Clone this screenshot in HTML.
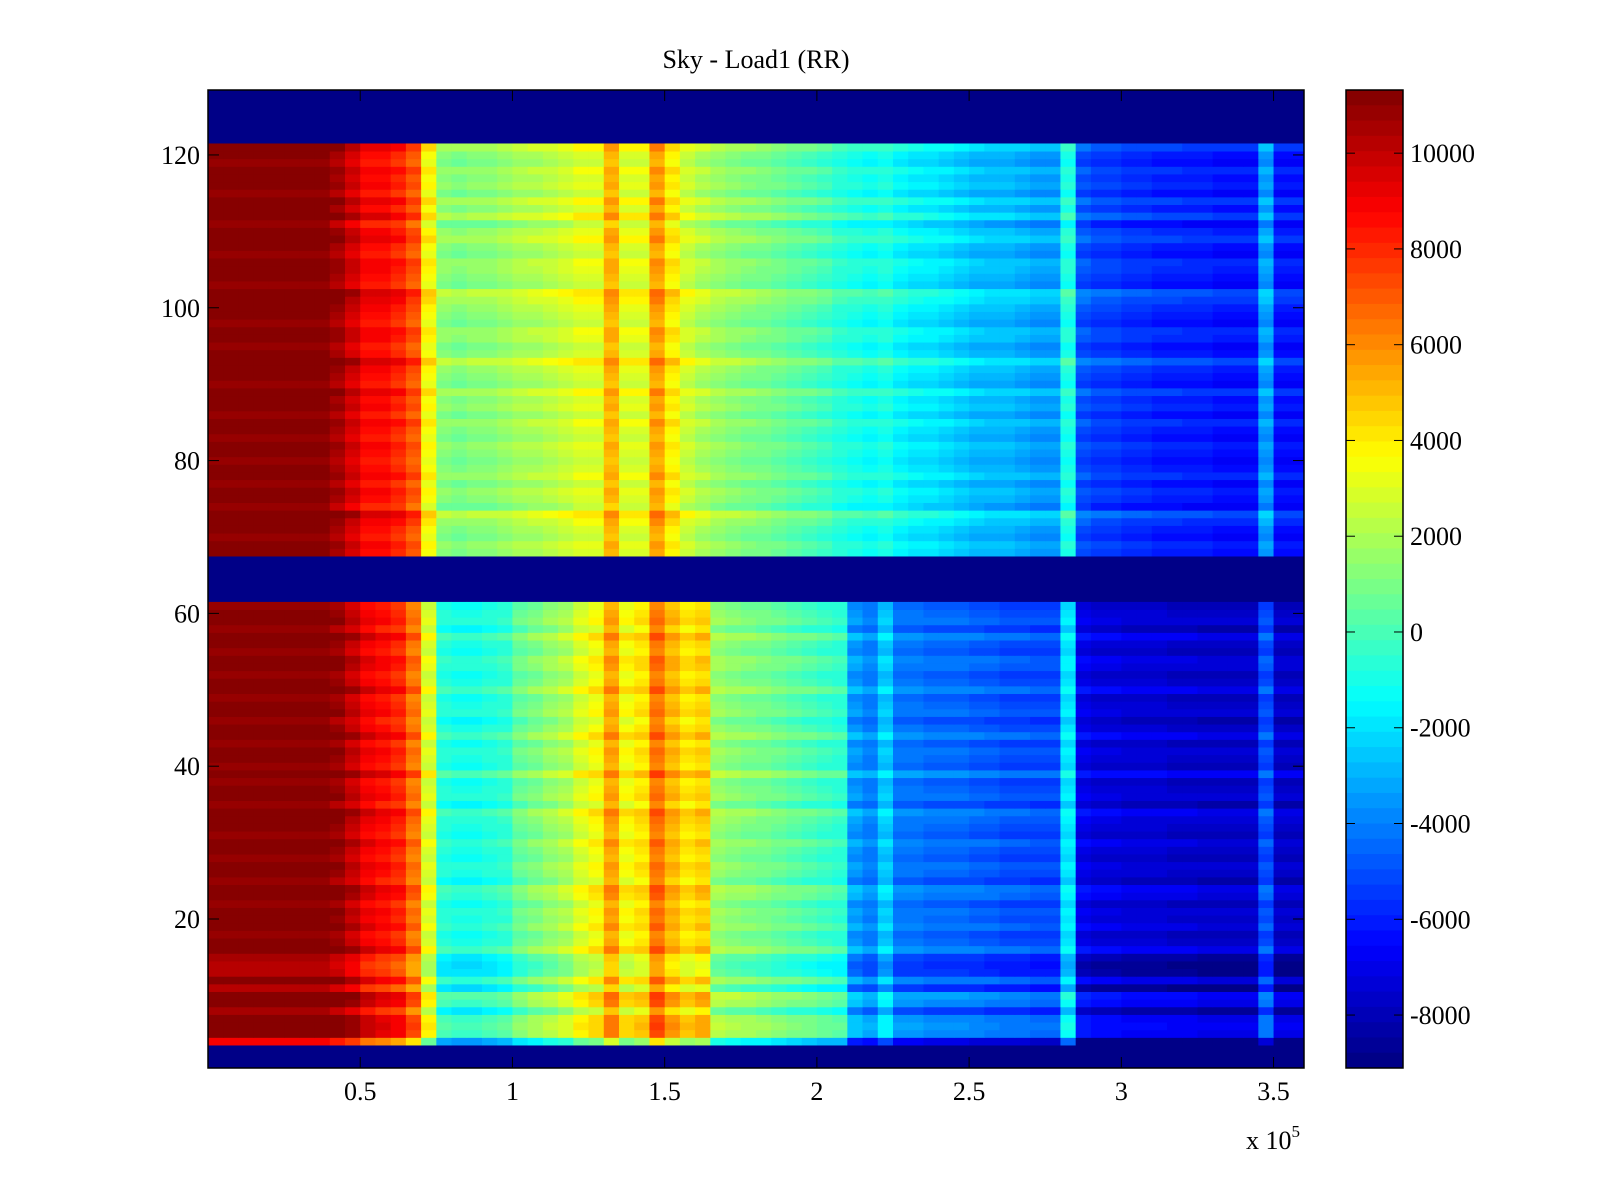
<!DOCTYPE html>
<html>
<head>
<meta charset="utf-8">
<style>
html,body{margin:0;padding:0;background:#fff;}
svg{display:block;font-family:"Liberation Serif",serif;}
</style>
</head>
<body>
<svg id="chart" width="1600" height="1200" viewBox="0 0 1600 1200">
  <rect width="1600" height="1200" fill="#fff"/>
  <text x="756" y="68" font-size="26" text-anchor="middle">Sky - Load1 (RR)</text>
  <g id="cells"></g>
  <rect x="208" y="90" width="1096" height="978" fill="none" stroke="#000" stroke-width="1.5"/>
  <g id="xticks"></g>
  <g id="yticks"></g>
  <text x="1246" y="1149" font-size="26">x 10<tspan dy="-12" font-size="17">5</tspan></text>
  <g id="cbar"></g>
</svg>
<script>
// ---- data ----
const xTicks = [0.5, 1, 1.5, 2, 2.5, 3, 3.5];           // x 1e5
const yTicks = [20, 40, 60, 80, 100, 120];
const cbarTicks = [10000, 8000, 6000, 4000, 2000, 0, -2000, -4000, -6000, -8000];
const colWidth = 5000;                                   // sample bin width
const upperProfile = [11300,11300,11300,11300,11300,11300,11300,11300,10500,9500,8500,8500,8000,7000,3500,1200,1000,1200,1200,1500,1800,2000,2200,2500,3000,3000,5000,3000,3000,5500,3800,2500,2000,1500,1200,1000,800,500,200,0,-300,-800,-1000,-1200,-1000,-1500,-1800,-2000,-2200,-2500,-2800,-3000,-3000,-3200,-3500,-3500,-1000,-5000,-5500,-5500,-5800,-5800,-6000,-6000,-6100,-6100,-6300,-6300,-6300,-3500,-6300,-6300];
const lowerProfile = [11300,11300,11300,11300,11300,11300,11300,11300,10800,10000,9000,8500,8000,6500,3000,-800,-1000,-1000,-800,-500,500,1000,1500,2000,3000,3500,5500,3500,4000,6500,5000,4000,4500,1500,1200,1000,800,500,300,0,-300,-500,-3500,-4000,-2500,-4300,-4300,-4500,-4500,-4500,-4700,-4800,-5000,-5000,-5200,-5200,-2000,-7000,-7300,-7300,-7500,-7500,-7500,-7600,-7600,-7800,-7800,-7800,-7800,-5000,-7800,-7800];
// per-row offsets, rows 1..128 (null = empty row at colour minimum)
const rowOffset = [null,null,null,-2500,800,1000,800,-800,800,1200,-1200,500,-1000,-1200,-800,800,0,-300,500,0,
  300,-300,500,800,-500,0,300,-300,0,500,-300,0,300,800,-500,300,0,-300,1000,-300,
  0,300,-300,800,0,-500,300,0,-300,800,0,-300,300,500,-300,0,800,-500,300,0,
  -300,null,null,null,null,null,null,0,300,-300,0,500,1200,-500,0,300,-300,500,0,-300,
  0,300,-300,0,500,-300,300,0,800,-300,0,300,1200,0,-300,300,500,-300,0,300,
  800,1200,-300,0,300,500,-300,0,800,300,-500,1000,0,800,-300,300,0,500,-300,0,
  800,null,null,null,null,null,null,null];
const cmin = -9106, cmax = 11319;

// ---- axes ----
const px0 = 208, px1 = 1304, py0 = 90, py1 = 1068;
const xScale = v => px0 + v * (px1 - px0) / 3.6e5;
const rowH = (py1 - py0) / 128;
const yScale = r => py1 - (r - 0.5) * rowH;
const cScale = v => py0 + (cmax - v) / (cmax - cmin) * (py1 - py0);

function jet(t){
  t = Math.max(0, Math.min(1, t));
  t = (Math.floor(t * 63.999) + 0.5) / 64;
  const f = x => Math.max(0, Math.min(1, x));
  const r = f(1.5 - Math.abs(4*t - 3)), g = f(1.5 - Math.abs(4*t - 2)), b = f(1.5 - Math.abs(4*t - 1));
  return `rgb(${Math.round(r*255)},${Math.round(g*255)},${Math.round(b*255)})`;
}
const colorOf = v => jet((v - cmin) / (cmax - cmin));
const NS = "http://www.w3.org/2000/svg";
const cells = document.getElementById('cells');

const bg = document.createElementNS(NS, 'rect');
bg.setAttribute('x', px0); bg.setAttribute('y', py0);
bg.setAttribute('width', px1 - px0); bg.setAttribute('height', py1 - py0);
bg.setAttribute('fill', colorOf(cmin));


cells.appendChild(bg);

for (let r = 1; r <= 128; r++) {
  const off = rowOffset[r - 1];
  if (off === null) continue;
  const prof = r >= 64 ? upperProfile : lowerProfile;
  const yTop = yScale(r + 0.5), yBot = yScale(r - 0.5);
  for (let c = 0; c < prof.length; c++) {
    const x0 = Math.max(px0, xScale(c * colWidth)), x1 = Math.min(px1, xScale((c + 1) * colWidth));
    if (x1 <= x0) continue;
    const el = document.createElementNS(NS, 'rect');
    el.setAttribute('x', x0.toFixed(2)); el.setAttribute('y', yTop.toFixed(2));
    el.setAttribute('width', (x1 - x0 + 0.4).toFixed(2)); el.setAttribute('height', (yBot - yTop + 0.4).toFixed(2));
    el.setAttribute('fill', colorOf(prof[c] + off));
    
    
    cells.appendChild(el);
  }
}

const xg = document.getElementById('xticks');
xTicks.forEach(t => {
  const x = xScale(t * 1e5);
  const l1 = document.createElementNS(NS, 'line');
  l1.setAttribute('x1', x); l1.setAttribute('x2', x); l1.setAttribute('y1', py1); l1.setAttribute('y2', py1 - 11);
  l1.setAttribute('stroke', '#000');
  
  
  xg.appendChild(l1);
  const l2 = document.createElementNS(NS, 'line');
  l2.setAttribute('x1', x); l2.setAttribute('x2', x); l2.setAttribute('y1', py0); l2.setAttribute('y2', py0 + 11);
  l2.setAttribute('stroke', '#000');
  
  
  xg.appendChild(l2);
  const tx = document.createElementNS(NS, 'text');
  tx.setAttribute('x', x); tx.setAttribute('y', 1100); tx.setAttribute('font-size', '26'); tx.setAttribute('text-anchor', 'middle');
  tx.textContent = String(t);
  
  
  xg.appendChild(tx);
});
const yg = document.getElementById('yticks');
yTicks.forEach(t => {
  const y = yScale(t);
  const l1 = document.createElementNS(NS, 'line');
  l1.setAttribute('x1', px0); l1.setAttribute('x2', px0 + 11); l1.setAttribute('y1', y); l1.setAttribute('y2', y);
  l1.setAttribute('stroke', '#000');
  
  
  yg.appendChild(l1);
  const l2 = document.createElementNS(NS, 'line');
  l2.setAttribute('x1', px1); l2.setAttribute('x2', px1 - 11); l2.setAttribute('y1', y); l2.setAttribute('y2', y);
  l2.setAttribute('stroke', '#000');
  
  
  yg.appendChild(l2);
  const tx = document.createElementNS(NS, 'text');
  tx.setAttribute('x', 200); tx.setAttribute('y', y + 9); tx.setAttribute('font-size', '26'); tx.setAttribute('text-anchor', 'end');
  tx.textContent = String(t);
  
  
  yg.appendChild(tx);
});

const cb = document.getElementById('cbar');
const cbx = 1346, cbw = 57;
for (let i = 0; i < 64; i++) {
  const vTop = cmax - i * (cmax - cmin) / 64, vBot = cmax - (i + 1) * (cmax - cmin) / 64;
  const yT = cScale(vTop), yB = cScale(vBot);
  const el = document.createElementNS(NS, 'rect');
  el.setAttribute('x', cbx); el.setAttribute('y', yT.toFixed(2));
  el.setAttribute('width', cbw); el.setAttribute('height', (yB - yT + 0.5).toFixed(2));
  el.setAttribute('fill', jet(1 - (i + 0.5) / 64));
  
  
  cb.appendChild(el);
}
const fr = document.createElementNS(NS, 'rect');
fr.setAttribute('x', cbx); fr.setAttribute('y', py0); fr.setAttribute('width', cbw); fr.setAttribute('height', py1 - py0);
fr.setAttribute('fill', 'none'); fr.setAttribute('stroke', '#000'); fr.setAttribute('stroke-width', '1.5');


cb.appendChild(fr);
cbarTicks.forEach(t => {
  const y = cScale(t);
  [[cbx, cbx + 9], [cbx + cbw, cbx + cbw - 9]].forEach(([a, b]) => {
    const l = document.createElementNS(NS, 'line');
    l.setAttribute('x1', a); l.setAttribute('x2', b); l.setAttribute('y1', y); l.setAttribute('y2', y);
    l.setAttribute('stroke', '#000');
    
    
    cb.appendChild(l);
  });
  const tx = document.createElementNS(NS, 'text');
  tx.setAttribute('x', 1410); tx.setAttribute('y', y + 9); tx.setAttribute('font-size', '26');
  tx.textContent = String(t);
  
  
  cb.appendChild(tx);
});
</script>
</body>
</html>
